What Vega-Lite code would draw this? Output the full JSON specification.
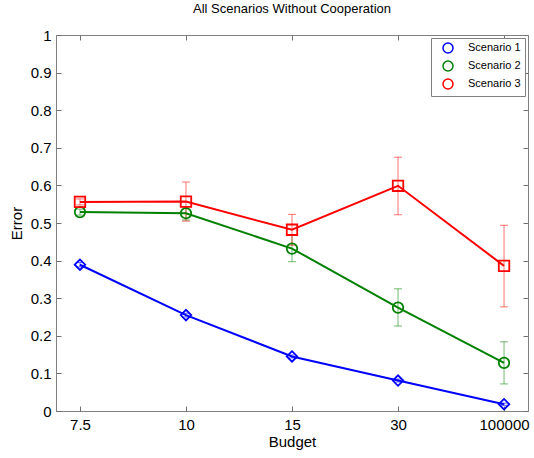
{
  "$schema": "https://vega.github.io/schema/vega-lite/v6.json",
  "width": 472,
  "height": 376,
  "autosize": {"type": "none"},
  "padding": {"left": 56, "top": 35, "right": 6, "bottom": 47},
  "background": "white",
  "title": {"text": "All Scenarios Without Cooperation", "fontSize": 13, "font": "Liberation Sans", "fontWeight": "normal", "color": "#000", "offset": 12},
  "config": {
    "font": "Liberation Sans",
    "view": {"stroke": "#808080", "strokeWidth": 1},
    "axis": {"domain": false, "grid": false, "zindex": 1, "offset": -5, "labelFont": "Liberation Sans", "labelFontSize": 15, "labelColor": "#000", "titleFont": "Liberation Sans", "titleFontSize": 15, "titleFontWeight": "normal", "titleColor": "#000", "tickColor": "#707070", "tickWidth": 1, "tickSize": 5}
  },
  "data": {"values": [
    {"budget": "7.5", "scenario": "Scenario 1", "error": 0.389, "lo": 0.383, "hi": 0.395},
    {"budget": "10", "scenario": "Scenario 1", "error": 0.255, "lo": 0.250, "hi": 0.260},
    {"budget": "15", "scenario": "Scenario 1", "error": 0.145, "lo": 0.141, "hi": 0.149},
    {"budget": "30", "scenario": "Scenario 1", "error": 0.081, "lo": 0.077, "hi": 0.085},
    {"budget": "100000", "scenario": "Scenario 1", "error": 0.018, "lo": 0.015, "hi": 0.021},
    {"budget": "7.5", "scenario": "Scenario 2", "error": 0.529, "lo": 0.521, "hi": 0.537},
    {"budget": "10", "scenario": "Scenario 2", "error": 0.526, "lo": 0.508, "hi": 0.544},
    {"budget": "15", "scenario": "Scenario 2", "error": 0.432, "lo": 0.397, "hi": 0.467},
    {"budget": "30", "scenario": "Scenario 2", "error": 0.275, "lo": 0.226, "hi": 0.325},
    {"budget": "100000", "scenario": "Scenario 2", "error": 0.128, "lo": 0.072, "hi": 0.184},
    {"budget": "7.5", "scenario": "Scenario 3", "error": 0.556, "lo": 0.548, "hi": 0.564},
    {"budget": "10", "scenario": "Scenario 3", "error": 0.557, "lo": 0.505, "hi": 0.609},
    {"budget": "15", "scenario": "Scenario 3", "error": 0.482, "lo": 0.441, "hi": 0.523},
    {"budget": "30", "scenario": "Scenario 3", "error": 0.599, "lo": 0.522, "hi": 0.675},
    {"budget": "100000", "scenario": "Scenario 3", "error": 0.386, "lo": 0.277, "hi": 0.494}
  ]},
  "resolve": {"legend": {"color": "independent", "shape": "independent"}},
  "layer": [
    {
      "mark": {"type": "rule", "strokeWidth": 1, "opacity": 0.55},
      "encoding": {
        "x": {"field": "budget", "type": "ordinal", "sort": ["7.5", "10", "15", "30", "100000"], "scale": {"type": "point", "padding": 0.226}, "axis": {"orient": "bottom", "title": "Budget", "labelAngle": 0, "labelPadding": 6, "titlePadding": 2}},
        "y": {"field": "lo", "type": "quantitative", "scale": {"domain": [0, 1], "nice": false}, "axis": {"orient": "left", "title": "Error", "values": [0, 0.1, 0.2, 0.3, 0.4, 0.5, 0.6, 0.7, 0.8, 0.9, 1], "format": "~g", "labelPadding": 5, "titlePadding": 6}},
        "y2": {"field": "hi"},
        "color": {"field": "scenario", "type": "nominal", "scale": {"domain": ["Scenario 1", "Scenario 2", "Scenario 3"], "range": ["#0000ff", "#008000", "#ff0000"]}, "legend": null}
      }
    },
    {
      "mark": {"type": "tick", "size": 8, "thickness": 1, "opacity": 0.55},
      "encoding": {
        "x": {"field": "budget", "type": "ordinal", "sort": ["7.5", "10", "15", "30", "100000"], "axis": {"orient": "top", "labels": false, "title": null}},
        "y": {"field": "lo", "type": "quantitative", "axis": {"orient": "right", "labels": false, "title": null, "values": [0, 0.1, 0.2, 0.3, 0.4, 0.5, 0.6, 0.7, 0.8, 0.9, 1]}},
        "color": {"field": "scenario", "type": "nominal", "legend": null}
      }
    },
    {
      "mark": {"type": "tick", "size": 8, "thickness": 1, "opacity": 0.55},
      "encoding": {
        "x": {"field": "budget", "type": "ordinal", "sort": ["7.5", "10", "15", "30", "100000"], "axis": null},
        "y": {"field": "hi", "type": "quantitative", "axis": null},
        "color": {"field": "scenario", "type": "nominal", "legend": null}
      }
    },
    {
      "mark": {"type": "line", "strokeWidth": 2},
      "encoding": {
        "x": {"field": "budget", "type": "ordinal", "sort": ["7.5", "10", "15", "30", "100000"], "axis": null},
        "y": {"field": "error", "type": "quantitative", "axis": null},
        "color": {"field": "scenario", "type": "nominal", "legend": null}
      }
    },
    {
      "mark": {"type": "point", "filled": false, "strokeWidth": 1.8, "size": 110, "opacity": 1},
      "encoding": {
        "x": {"field": "budget", "type": "ordinal", "sort": ["7.5", "10", "15", "30", "100000"], "axis": null},
        "y": {"field": "error", "type": "quantitative", "axis": null},
        "shape": {"field": "scenario", "type": "nominal", "scale": {"domain": ["Scenario 1", "Scenario 2", "Scenario 3"], "range": ["diamond", "circle", "square"]}, "legend": null},
        "color": {"field": "scenario", "type": "nominal", "legend": null}
      }
    },
    {
      "mark": {"type": "point", "filled": false, "strokeWidth": 1.6, "size": 100, "opacity": 0},
      "encoding": {
        "x": {"field": "budget", "type": "ordinal", "sort": ["7.5", "10", "15", "30", "100000"], "axis": null},
        "y": {"field": "error", "type": "quantitative", "axis": null},
        "color": {"field": "scenario", "type": "nominal", "legend": {
          "title": null, "orient": "top-right", "offset": 3, "padding": 4,
          "strokeColor": "#808080", "fillColor": "white",
          "labelFontSize": 11, "labelFont": "Liberation Sans", "labelColor": "#000",
          "rowPadding": 2, "symbolSize": 100, "symbolOffset": 7, "labelOffset": 14,
          "encode": {"symbols": {
            "shape": {"value": {"signal": "datum.value === 'Scenario 1' ? 'M-1.4,0L1.4,0M0,-0.75L0.5,0L0,0.75L-0.5,0Z' : datum.value === 'Scenario 2' ? 'M-1.4,0L1.4,0M0.6,0A0.6,0.6 0 1 1 -0.6,0A0.6,0.6 0 1 1 0.6,0Z' : 'M-1.4,0L1.4,0M-0.55,-0.55L0.55,-0.55L0.55,0.55L-0.55,0.55Z'"}},
            "size": {"value": 240},
            "strokeWidth": {"value": 1.6},
            "fill": {"value": "transparent"},
            "opacity": {"value": 1}
          }}
        }}
      }
    }
  ]
}
